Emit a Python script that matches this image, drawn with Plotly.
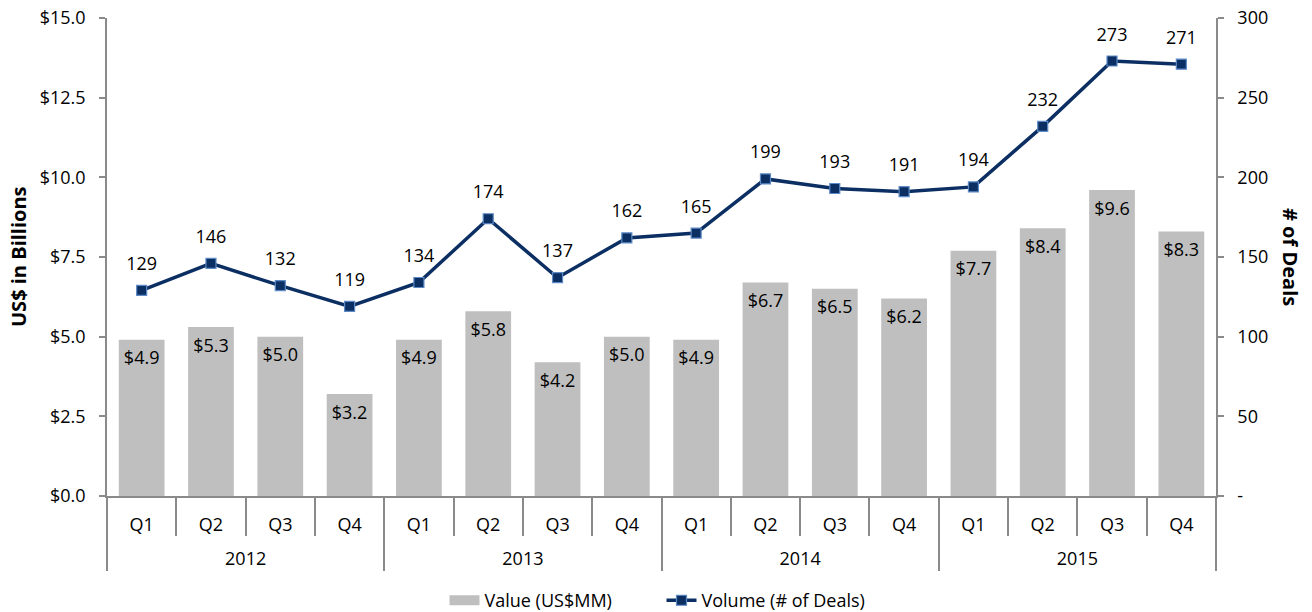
import plotly.graph_objects as go

quarters = ["Q1", "Q2", "Q3", "Q4"] * 4
years = ["2012", "2013", "2014", "2015"]
value_bn = [4.9, 5.3, 5.0, 3.2, 4.9, 5.8, 4.2, 5.0, 4.9, 6.7, 6.5, 6.2, 7.7, 8.4, 9.6, 8.3]
deals = [129, 146, 132, 119, 134, 174, 137, 162, 165, 199, 193, 191, 194, 232, 273, 271]
left_ticks = [0, 2.5, 5, 7.5, 10, 12.5, 15]
left_labels = ["$0.0", "$2.5", "$5.0", "$7.5", "$10.0", "$12.5", "$15.0"]
right_ticks = [0, 50, 100, 150, 200, 250, 300]
right_labels = ["-", "50", "100", "150", "200", "250", "300"]

n = len(quarters)
idx = list(range(n))
q_per_year = 4
year_centers = [i * q_per_year + (q_per_year - 1) / 2 for i in range(len(years))]
q_bounds = [i - 0.5 for i in range(n + 1)]
y_bounds = [i * q_per_year - 0.5 for i in range(len(years) + 1)]
xr = [-0.5, n - 0.5]

FONT = "Segoe UI, Open Sans, DejaVu Sans, sans-serif"
AX = "#8a8a8a"
NAVY = "#0c2f63"
GREY = "#bfbfbf"
FS = 18

fig = go.Figure()
fig.add_trace(go.Bar(
    x=idx, y=value_bn, name="Value (US$MM)", showlegend=False,
    marker=dict(color=GREY, line=dict(width=0)),
    width=0.66, hoverinfo="skip",
))
# bar value labels, just inside the top of each bar
fig.add_trace(go.Scatter(
    x=idx, y=value_bn, mode="markers+text", showlegend=False,
    text=[f"${v:.1f}" for v in value_bn], textposition="bottom center",
    textfont=dict(size=FS, color="#000000"), hoverinfo="skip",
    marker=dict(size=16, opacity=0),
))
# legend swatch for the bars (wide grey box like the original)
fig.add_trace(go.Scatter(
    x=[None], y=[None], mode="lines", name="Value (US$MM)",
    line=dict(color=GREY, width=12),
))
fig.add_trace(go.Scatter(
    x=idx, y=deals, name="Volume (# of Deals)", xaxis="x2", yaxis="y2",
    mode="lines+markers",
    line=dict(color=NAVY, width=3.5),
    marker=dict(symbol="square", size=10, color=NAVY, line=dict(color="#5b8ac6", width=1.2)),
    cliponaxis=False,
))
fig.add_trace(go.Scatter(
    x=idx, y=deals, xaxis="x2", yaxis="y2", mode="markers+text", showlegend=False,
    text=[str(d) for d in deals], textposition="top center",
    textfont=dict(size=FS, color="#000000"), hoverinfo="skip", cliponaxis=False,
    marker=dict(size=24, opacity=0),
))

fig.update_layout(
    width=1312, height=612,
    margin=dict(l=107, r=96, t=18, b=116, autoexpand=False),
    paper_bgcolor="white", plot_bgcolor="white",
    font=dict(family=FONT, size=FS, color="#000000"),
    showlegend=True,
    legend=dict(orientation="h", x=0.5, xanchor="center", y=-0.18, yanchor="top",
                font=dict(size=FS), traceorder="normal", itemwidth=30, entrywidth=172),
    xaxis=dict(
        range=xr, tickvals=idx, ticktext=quarters, ticks="",
        showline=True, linecolor=AX, linewidth=1.5, showgrid=False, zeroline=False,
        ticklabelstandoff=12, tickfont=dict(size=FS),
        minor=dict(tickmode="array", tickvals=q_bounds, ticks="outside", ticklen=38,
                   tickcolor=AX, tickwidth=1.5, showgrid=False),
    ),
    xaxis2=dict(
        range=xr, overlaying="x", anchor="y", side="bottom",
        tickvals=year_centers, ticktext=years, ticks="",
        showline=False, showgrid=False, zeroline=False,
        ticklabelstandoff=50, tickfont=dict(size=FS),
        minor=dict(tickmode="array", tickvals=y_bounds, ticks="outside", ticklen=74,
                   tickcolor=AX, tickwidth=1.5, showgrid=False),
    ),
    yaxis=dict(
        range=[0, 15], tickvals=left_ticks, ticktext=left_labels,
        showline=True, linecolor=AX, linewidth=1.5, ticks="outside", ticklen=6,
        tickcolor=AX, tickwidth=1.5, showgrid=False, zeroline=False,
        tickfont=dict(size=FS), ticklabelstandoff=10,
    ),
    yaxis2=dict(
        range=[0, 300], tickvals=right_ticks, ticktext=right_labels, overlaying="y",
        anchor="x", side="right", showline=True, linecolor=AX, linewidth=1.5,
        ticks="outside", ticklen=6, tickcolor=AX, tickwidth=1.5, showgrid=False,
        zeroline=False, tickfont=dict(size=FS), ticklabelstandoff=10,
    ),
    annotations=[
        dict(text="<b>US$ in Billions</b>", x=0, xref="paper", xshift=-89, xanchor="center",
             y=0.5, yref="paper", textangle=-90, showarrow=False, font=dict(size=20)),
        dict(text="<b># of Deals</b>", x=1.0, xref="paper", xshift=75, xanchor="center",
             y=0.5, yref="paper", textangle=90, showarrow=False, font=dict(size=20)),
    ],
)

fig.write_html("out.html", config={"displayModeBar": False},
               post_script="document.body.style.margin='0';")
